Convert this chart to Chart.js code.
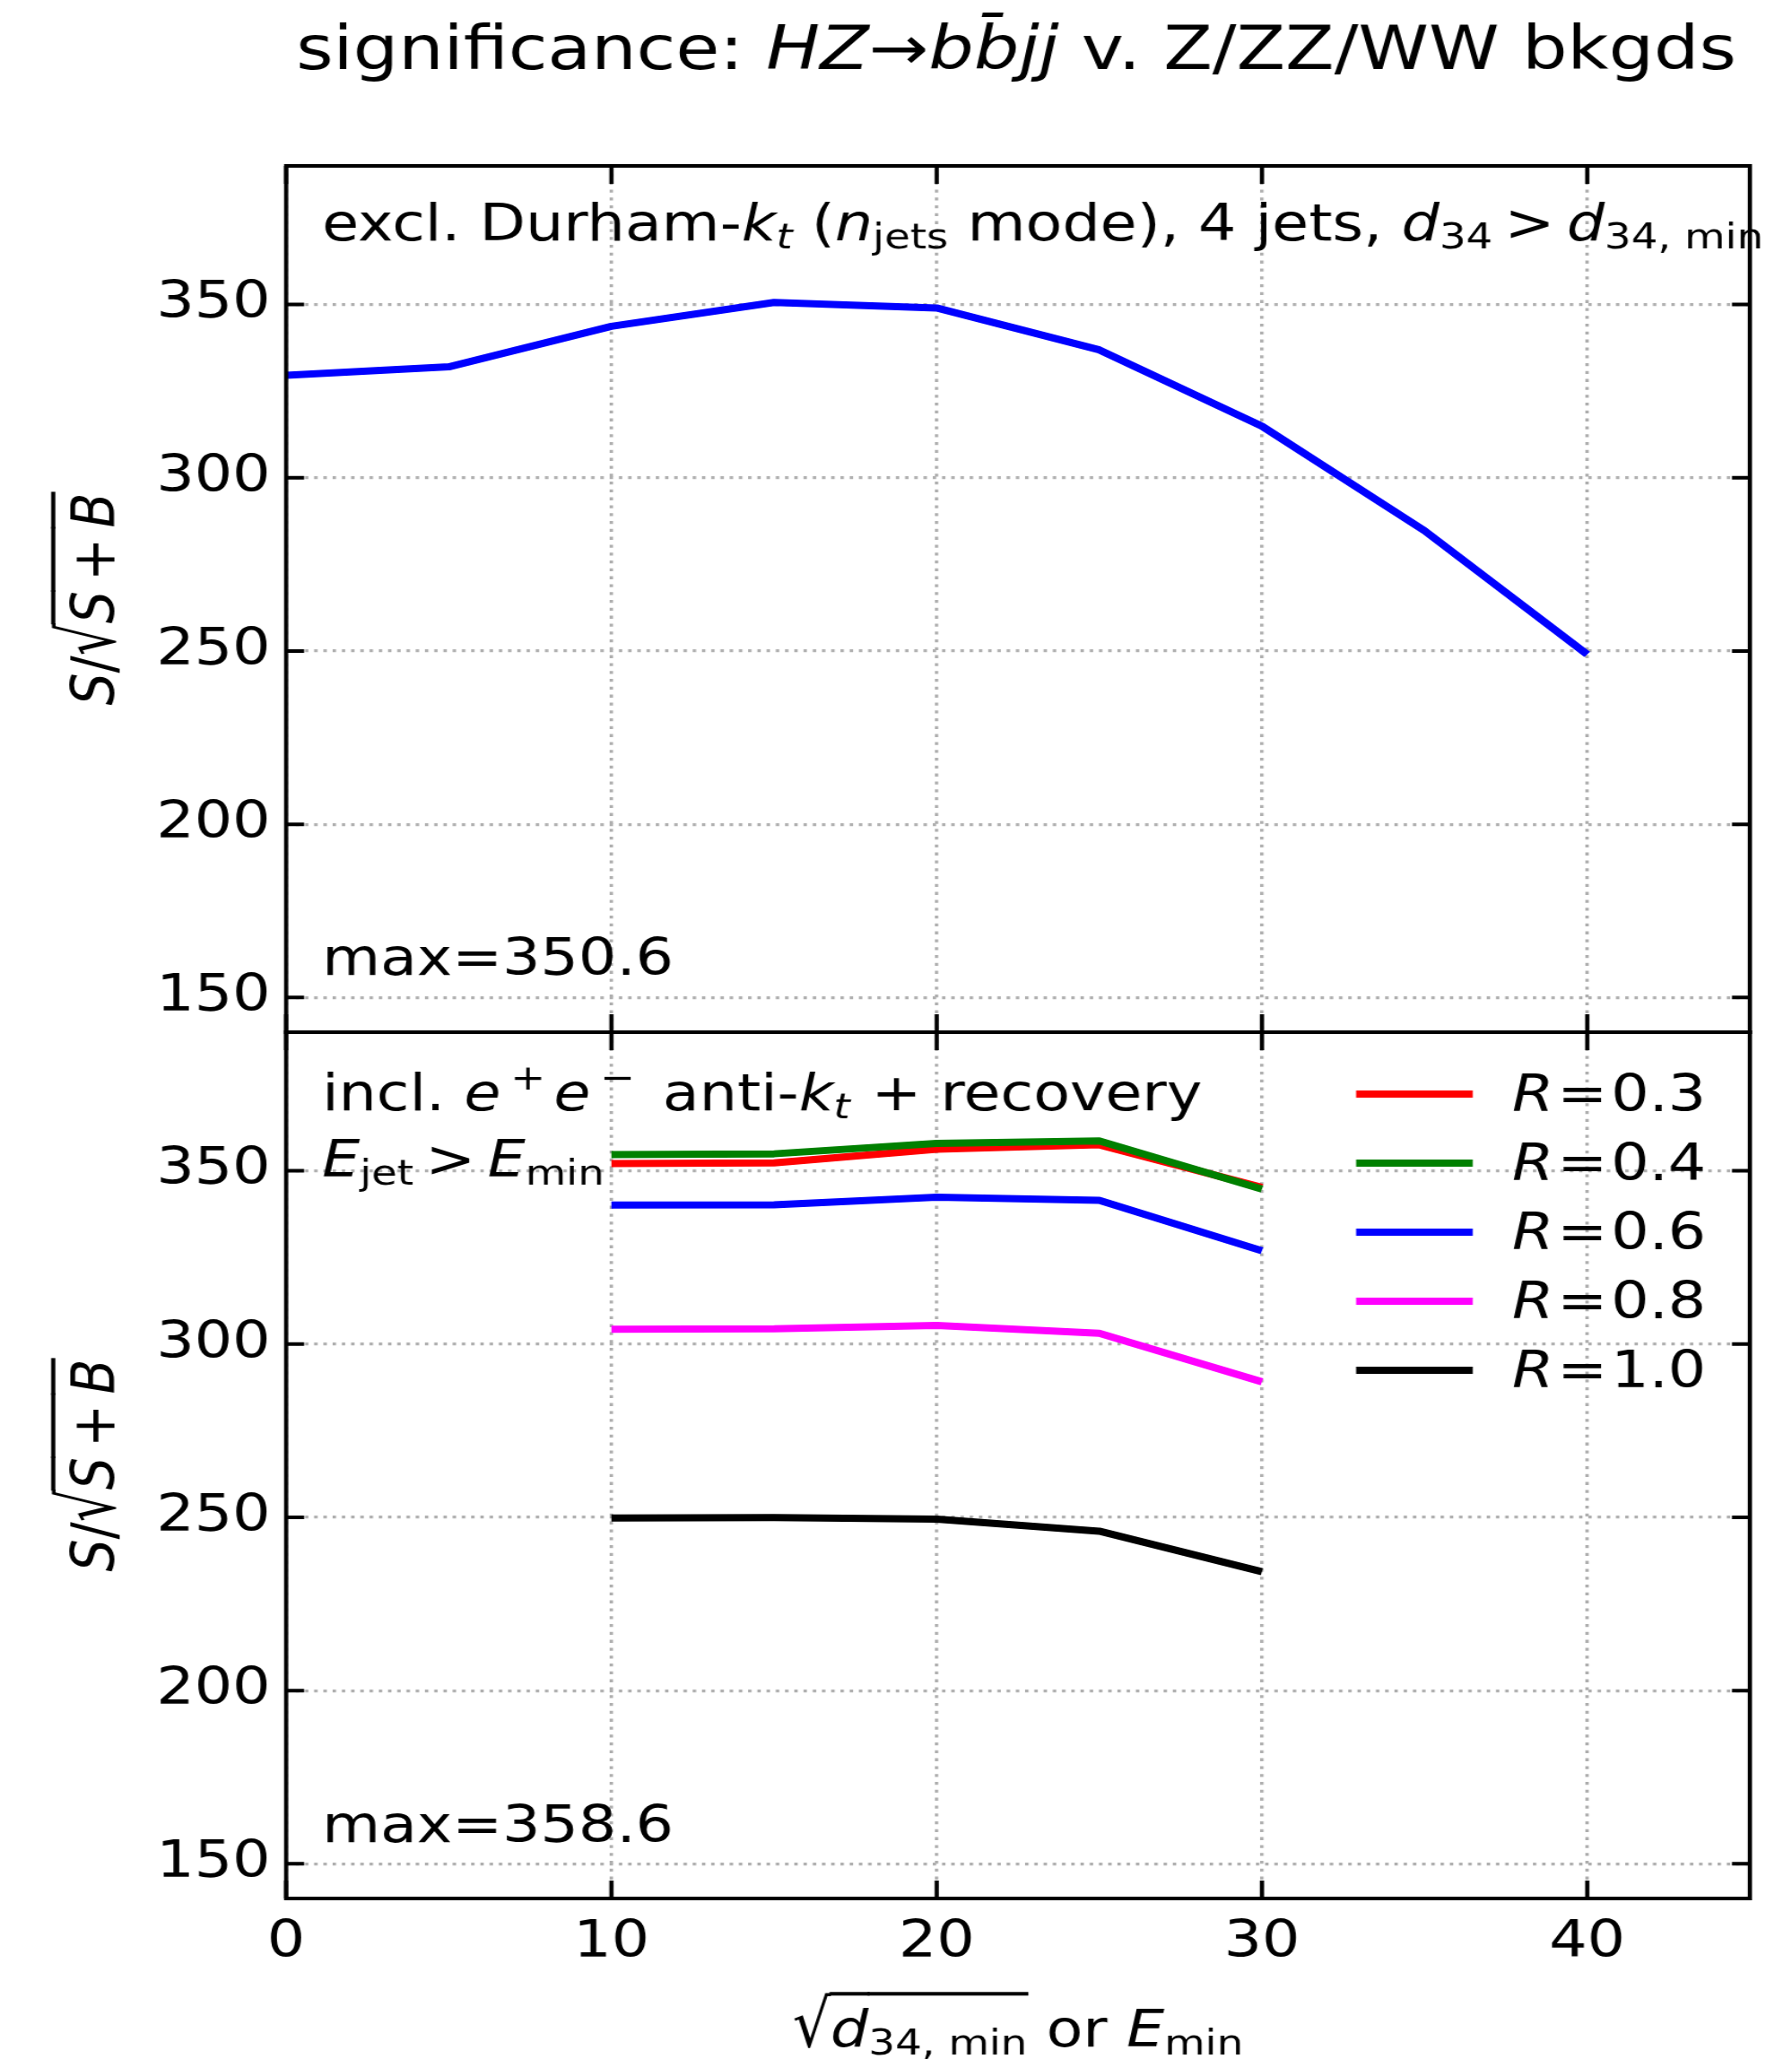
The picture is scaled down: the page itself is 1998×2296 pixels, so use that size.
<!DOCTYPE html>
<html>
<head>
<meta charset="utf-8">
<title>significance: HZ→bb̄jj v. Z/ZZ/WW bkgds</title>
<script src="https://cdn.jsdelivr.net/npm/chart.js@4.4.1/dist/chart.umd.min.js"></script>
<style>
    body { margin: 0; background: #fff; }
    #figure { position: relative; width: 1998px; height: 2296px; }
    #figure canvas { position: absolute; left: 0; top: 0; }
</style>
</head>
<body>
<div id="figure">
    <canvas id="panel-durham" width="1708" height="2296" style="width:1998px;height:2296px"></canvas>
    <canvas id="panel-antikt" width="1708" height="2296" style="width:1998px;height:2296px"></canvas>
</div>
<script>
// S/sqrt(S+B) vs sqrt(d34,min) -- exclusive Durham-kt, 4 jets
const dMinValues = [0, 5, 10, 15, 20, 25, 30, 35, 40];
const durhamSignif = [329.6, 332.0, 343.7, 350.6, 349.0, 336.9, 314.9, 284.7, 249.0];

// S/sqrt(S+B) vs Emin -- inclusive ee anti-kt + recovery, one series per R
const eMinValues = [10, 15, 20, 25, 30];
const radiusLabels = ['0.3', '0.4', '0.6', '0.8', '1.0'];
const signifR03 = [352.1, 352.3, 356.2, 357.5, 345.2];
const signifR04 = [354.7, 354.9, 357.9, 358.6, 344.7];
const signifR06 = [340.1, 340.2, 342.4, 341.5, 326.9];
const signifR08 = [304.3, 304.4, 305.4, 303.1, 289.1];
const signifR10 = [249.8, 249.9, 249.5, 246.0, 234.3];

const xTicks = [0, 10, 20, 30, 40];
const yTicks = [150, 200, 250, 300, 350];

const radiusSeries = [signifR03, signifR04, signifR06, signifR08, signifR10];
const radiusColors = ['#ff0000', '#008000', '#0000ff', '#ff00ff', '#000000'];

// the bitmap is 1708 wide and shown 1998 wide, so x is given in page px and divided by SX
const SX = 1998 / 1708;
const px = v => v / SX;
const AXIS_LEFT = 319, AXIS_RIGHT = 1951;
const TOP_Y = 185, MID_Y = 1151, BOTTOM_Y = 2117, PAGE_H = 2296;
const FONT = '"DejaVu Sans", sans-serif';
const FS = 57;
const TICK = 20;
const THIN = '\u2009';

Chart.defaults.font.family = 'DejaVu Sans';
Chart.defaults.color = '#000';

// ---- mixed text (italic / sub / sup / overline) ----
function runFont(r, size) {
    const s = (r.sub || r.sup) ? size * 0.7 : size;
    return (r.it ? 'italic ' : '') + s.toFixed(1) + 'px ' + FONT;
}

function layoutRuns(ctx, runs, size) {
    const barTop = size * 1.03;
    let x = 0;
    const items = runs.map(r => {
        x += (r.dx || 0) * size;
        ctx.font = runFont(r, size);
        const m = ctx.measureText(r.t);
        let w = m.width, k = 1;
        if (r.rad) {
            k = (barTop + 2) / m.actualBoundingBoxAscent;
            w = m.actualBoundingBoxRight - 1;
        }
        const item = { r, x, w, k, font: ctx.font };
        x += w;
        return item;
    });
    return { items, width: x, barTop };
}

function drawRich(ctx, runs, x, y, size, align) {
    const lay = layoutRuns(ctx, runs, size);
    const x0 = align === 'center' ? x - lay.width / 2 : x;
    ctx.textAlign = 'left';
    ctx.textBaseline = 'alphabetic';
    ctx.fillStyle = '#000';
    lay.items.forEach(it => {
        const r = it.r;
        ctx.font = it.font;
        const dy = r.sub ? size * 0.16 : r.sup ? -size * 0.4 : 0;
        if (r.rad) {
            ctx.save();
            ctx.translate(x0 + it.x, y);
            ctx.scale(1, it.k);
            ctx.fillText(r.t, 0, 0);
            ctx.restore();
        } else {
            ctx.fillText(r.t, x0 + it.x, y + dy);
        }
        if (r.bar) ctx.fillRect(x0 + it.x - 1, y - lay.barTop - 2, it.w + 2, 4);
    });
}

const titleRuns = [
    { t: 'significance: ' }, { t: 'HZ', it: 1 }, { t: '→' },
    { t: 'b', it: 1 }, { t: 'b\u0304', it: 1 }, { t: 'jj', it: 1 },
    { t: ' v. Z/ZZ/WW bkgds' }
];
const yLabelRuns = [
    { t: 'S', it: 1 }, { t: '/' }, { t: '√', rad: 1 },
    { t: 'S', it: 1, bar: 1 }, { t: THIN + '+' + THIN, bar: 1 }, { t: 'B', it: 1, bar: 1 }
];
const xLabelRuns = [
    { t: '√', rad: 1 }, { t: 'd', it: 1, bar: 1 }, { t: '34, min', sub: 1, bar: 1 },
    { t: ' or ' }, { t: 'E', it: 1 }, { t: 'min', sub: 1 }
];
const durhamNote = [
    { t: 'excl. Durham-' }, { t: 'k', it: 1 }, { t: 't', it: 1, sub: 1 },
    { t: ' (' }, { t: 'n', it: 1 }, { t: 'jets', sub: 1 },
    { t: ' mode), 4 jets, ' }, { t: 'd', it: 1 }, { t: '34', sub: 1 },
    { t: THIN + '>' + THIN }, { t: 'd', it: 1 }, { t: '34, min', sub: 1 }
];
const antiktNote = [
    { t: 'incl. ' }, { t: 'e', it: 1 }, { t: '+', sup: 1, dx: 0.16 },
    { t: 'e', it: 1, dx: 0.14 }, { t: '−', sup: 1, dx: 0.16 },
    { t: ' anti-', dx: 0.14 }, { t: 'k', it: 1 }, { t: 't', it: 1, sub: 1 },
    { t: ' + recovery', dx: 0.04 }
];
const eJetNote = [
    { t: 'E', it: 1 }, { t: 'jet', sub: 1 }, { t: THIN + '>' + THIN }, { t: 'E', it: 1 }, { t: 'min', sub: 1 }
];

function drawYLabel(ctx, cy) {
    ctx.save();
    ctx.translate(px(128), cy);
    ctx.rotate(-Math.PI / 2);
    drawRich(ctx, yLabelRuns, 0, 0, FS, 'center');
    ctx.restore();
}

// box + inward ticks on all four sides
function drawFrame(chart) {
    const { ctx, chartArea: a, scales } = chart;
    ctx.save();
    ctx.strokeStyle = '#000';
    ctx.lineWidth = 4;
    ctx.beginPath();
    xTicks.forEach(v => {
        const x = scales.x.getPixelForValue(v);
        ctx.moveTo(x, a.top); ctx.lineTo(x, a.top + TICK);
        ctx.moveTo(x, a.bottom); ctx.lineTo(x, a.bottom - TICK);
    });
    yTicks.forEach(v => {
        const y = scales.y.getPixelForValue(v);
        ctx.moveTo(a.left, y); ctx.lineTo(a.left + px(TICK), y);
        ctx.moveTo(a.right, y); ctx.lineTo(a.right - px(TICK), y);
    });
    ctx.stroke();
    ctx.strokeRect(a.left, a.top, a.right - a.left, a.bottom - a.top);
    ctx.restore();
}

function panelOptions(isBottom) {
    const tickFont = { family: 'DejaVu Sans', size: FS };
    const grid = { color: '#b0b0b0', lineWidth: 3.3, drawTicks: false };
    const border = { display: false, dash: [3.3, 5.5] };
    return {
        responsive: false,
        devicePixelRatio: 1,
        animation: false,
        events: [],
        layout: {
            padding: {
                left: 0,
                right: 1708 - px(AXIS_RIGHT),
                top: isBottom ? MID_Y : TOP_Y,
                bottom: isBottom ? 0 : PAGE_H - MID_Y
            }
        },
        scales: {
            x: {
                type: 'linear', min: 0, max: 45,
                afterBuildTicks: s => { s.ticks = xTicks.map(v => ({ value: v })); },
                afterFit: s => { s.height = isBottom ? PAGE_H - BOTTOM_Y : 0; },
                grid, border,
                ticks: { display: isBottom, autoSkip: false, maxRotation: 0, padding: 16, color: '#000', font: tickFont }
            },
            y: {
                type: 'linear', min: 140, max: 390,
                afterBuildTicks: s => { s.ticks = yTicks.map(v => ({ value: v })); },
                afterFit: s => { s.width = px(AXIS_LEFT); },
                grid, border,
                ticks: { padding: 15, color: '#000', font: tickFont }
            }
        },
        plugins: { legend: { display: false }, tooltip: { enabled: false } }
    };
}

const lineStyle = { borderWidth: 8, pointRadius: 0, tension: 0, borderJoinStyle: 'round', fill: false };

// TOP PANEL
new Chart(document.getElementById('panel-durham'), {
    type: 'line',
    data: {
        datasets: [{
            label: 'Durham-kt',
            data: dMinValues.map((x, i) => ({ x, y: durhamSignif[i] })),
            borderColor: '#0000ff',
            ...lineStyle
        }]
    },
    options: panelOptions(false),
    plugins: [{
        id: 'durhamText',
        afterDraw(chart) {
            const ctx = chart.ctx;
            ctx.save();
            drawRich(ctx, titleRuns, px(1133), 77, 68, 'center');
            drawRich(ctx, durhamNote, px(359), 268, FS);
            drawRich(ctx, [{ t: 'max=' + Math.max(...durhamSignif).toFixed(1) }], px(359), 1087, FS);
            drawYLabel(ctx, (TOP_Y + MID_Y) / 2);
            ctx.restore();
            drawFrame(chart);
        }
    }]
});

// BOTTOM PANEL
new Chart(document.getElementById('panel-antikt'), {
    type: 'line',
    data: {
        datasets: radiusSeries.map((vals, i) => ({
            label: 'R = ' + radiusLabels[i],
            data: eMinValues.map((x, j) => ({ x, y: vals[j] })),
            borderColor: radiusColors[i],
            order: radiusSeries.length - i,
            ...lineStyle
        }))
    },
    options: panelOptions(true),
    plugins: [{
        id: 'antiktText',
        afterDraw(chart) {
            const ctx = chart.ctx;
            ctx.save();
            drawRich(ctx, antiktNote, px(359), 1238, FS);
            drawRich(ctx, eJetNote, px(359), 1312, FS);
            const best = Math.max(...radiusSeries.flat());
            drawRich(ctx, [{ t: 'max=' + best.toFixed(1) }], px(359), 2054, FS);

            // legend
            chart.data.datasets.forEach((ds, i) => {
                const y = 1220 + i * 77;
                ctx.strokeStyle = ds.borderColor;
                ctx.lineWidth = 8;
                ctx.beginPath();
                ctx.moveTo(px(1512), y);
                ctx.lineTo(px(1642), y);
                ctx.stroke();
                drawRich(ctx, [{ t: 'R', it: 1 }, { t: '=', dx: 0.06 }, { t: radiusLabels[i], dx: 0.06 }], px(1686), y + 19, FS);
            });

            drawYLabel(ctx, (MID_Y + BOTTOM_Y) / 2);
            drawRich(ctx, xLabelRuns, px(1135), 2282, FS, 'center');
            ctx.restore();
            drawFrame(chart);
        }
    }]
});
</script>
</body>
</html>
